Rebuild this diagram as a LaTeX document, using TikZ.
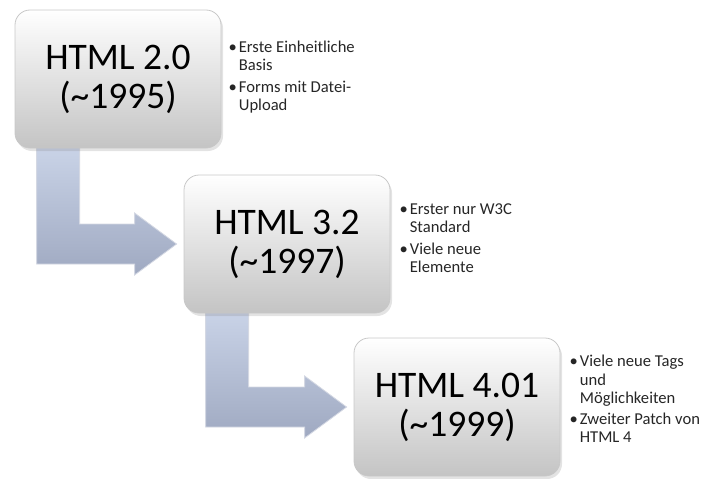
\documentclass[tikz,border=0pt]{standalone}
\usepackage{fontspec}
\setmainfont{Carlito}
\usepackage{tikz}
\usetikzlibrary{calc,shadows}
\pgfdeclarelayer{background}
\pgfsetlayers{background,main}
\definecolor{arrowtop}{HTML}{CAD4E8}
\definecolor{arrowbot}{HTML}{9FA9C1}
\definecolor{boxbot}{HTML}{C4C4C4}
\definecolor{boxedge}{HTML}{C8C8C8}
\tikzset{
VERSIONBOX/.style={draw=boxedge, line width=0.8pt, rounded corners=15pt, top color=white, bottom color=boxbot,
  minimum width=206pt, minimum height=138pt, align=center, inner sep=0pt,
  font=\fontsize{37.5}{39}\selectfont,
  drop shadow={opacity=0.22, shadow xshift=2pt, shadow yshift=-3pt}},
NOTES/.style={anchor=west, inner sep=0pt, text=black!85, font=\fontsize{16.6}{18.5}\selectfont},
BENT/.style={draw=white!55!arrowbot, line width=0.8pt, line join=miter, top color=arrowtop, bottom color=arrowbot},
}
\newcommand{\pnt}{\textbullet}

\begin{document}
\begin{tikzpicture}
[x=1pt, y=-1pt]
	\useasboundingbox (0,0) rectangle (702,479);
	\node[VERSIONBOX] (b1) at (118,79) {HTML 2.0\\(\textasciitilde1995)};
	\node[VERSIONBOX] (b2) at (287,244) {HTML 3.2\\(\textasciitilde1997)};
	\node[VERSIONBOX] (b3) at (457,407) {HTML 4.01\\(\textasciitilde1999)};
	% bent arrows, under the boxes
	\begin{pgfonlayer}{background}
	\foreach \a/\b in {b1/b2,b2/b3} {
	\path[BENT] let \p1=(\a.south west), \p2=(\b.west) in
	  (\x1+22,\y1+4) -- (\x1+65,\y1+4) -- (\x1+65,\y2+20) -- (\x2-49,\y2+20)
	  -- (\x2-49,\y2+31) -- (\x2-7,\y2) -- (\x2-49,\y2-31) -- (\x2-49,\y2-20)
	  -- (\x1+22,\y2-20) -- cycle;}
	\end{pgfonlayer}
	\node[NOTES] (n1) at ($(b1.east)+(7,-1)$) {\begin{tabular}{@{}l@{\hspace{2pt}}l@{}}
	  \pnt & Erste Einheitliche\\ & Basis\\[3pt] \pnt & Forms mit Datei-\\ & Upload\end{tabular}};
	\node[NOTES] (n2) at ($(b2.east)+(9,-4)$) {\begin{tabular}{@{}l@{\hspace{2pt}}l@{}}
	  \pnt & Erster nur W3C\\ & Standard\\[3pt] \pnt & Viele neue\\ & Elemente\end{tabular}};
	\node[NOTES] (n3) at ($(b3.east)+(9,-6)$) {\begin{tabular}{@{}l@{\hspace{2pt}}l@{}}
	  \pnt & Viele neue Tags\\ & und\\ & Möglichkeiten\\[2pt] \pnt & Zweiter Patch von\\ & HTML 4\end{tabular}};
\end{tikzpicture}
\end{document}
